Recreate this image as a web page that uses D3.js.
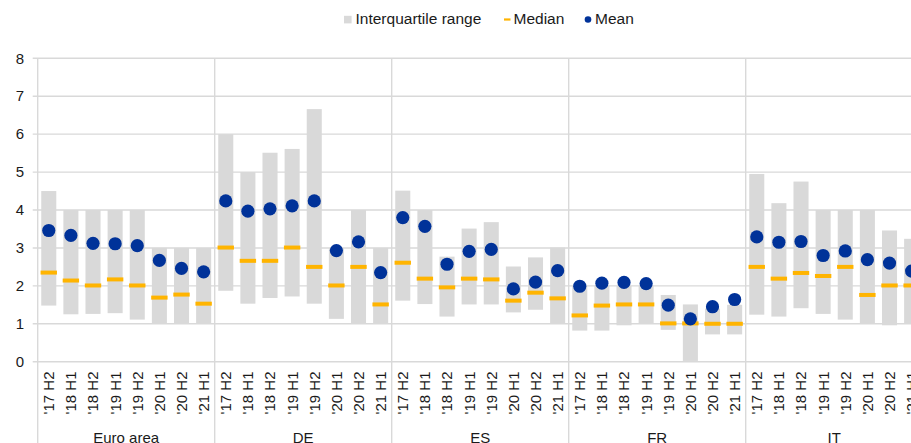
<!DOCTYPE html>
<html>
<head>
<meta charset="utf-8">
<script src="https://cdn.jsdelivr.net/npm/d3@7/dist/d3.min.js"></script>
<style>
html,body{margin:0;padding:0;background:#fff;overflow:hidden;}
text{font-family:"Liberation Sans",Arial,sans-serif;fill:#1a1a1a;}
</style>
</head>
<body>
<svg id="chart" width="911" height="443"></svg>
<script>
const groups = ["Euro area", "DE", "ES", "FR", "IT"];
const periods = ["'17 H2", "'18 H1", "'18 H2", "'19 H1", "'19 H2", "'20 H1", "'20 H2", "'21 H1"];
const yTicks = [0, 1, 2, 3, 4, 5, 6, 7, 8];

// per group, 8 periods each
const q1 = [
  [1.48, 1.25, 1.26, 1.28, 1.11, 1.0, 1.0, 1.0],
  [1.87, 1.53, 1.68, 1.72, 1.53, 1.13, 1.0, 1.0],
  [1.61, 1.52, 1.19, 1.51, 1.51, 1.30, 1.37, 1.02],
  [0.82, 0.82, 0.96, 1.02, 0.84, 0.02, 0.72, 0.72],
  [1.24, 1.19, 1.41, 1.26, 1.11, 1.02, 0.96, 1.02]
];
const q3 = [
  [4.5, 4.0, 4.0, 4.0, 4.0, 3.0, 3.0, 3.0],
  [6.0, 5.0, 5.51, 5.61, 6.66, 3.0, 4.0, 3.0],
  [4.51, 4.0, 2.77, 3.51, 3.68, 2.51, 2.75, 3.01],
  [2.0, 2.0, 2.0, 2.0, 1.76, 1.51, 1.4, 1.5],
  [4.95, 4.18, 4.75, 4.0, 4.0, 4.0, 3.46, 3.24]
];
const medians = [
  [2.35, 2.14, 2.01, 2.17, 2.01, 1.69, 1.77, 1.53],
  [3.01, 2.66, 2.66, 3.01, 2.5, 2.01, 2.5, 1.51],
  [2.61, 2.19, 1.96, 2.19, 2.17, 1.61, 1.82, 1.67],
  [1.22, 1.48, 1.51, 1.51, 1.01, 1.01, 1.0, 1.0],
  [2.5, 2.19, 2.34, 2.26, 2.5, 1.76, 2.01, 2.01]
];
const means = [
  [3.46, 3.33, 3.12, 3.11, 3.06, 2.67, 2.46, 2.37],
  [4.24, 3.97, 4.03, 4.11, 4.24, 2.93, 3.16, 2.35],
  [3.80, 3.57, 2.57, 2.91, 2.96, 1.92, 2.10, 2.40],
  [1.99, 2.07, 2.09, 2.06, 1.49, 1.13, 1.45, 1.64],
  [3.29, 3.15, 3.17, 2.80, 2.92, 2.69, 2.60, 2.39]
];

const data = [];
groups.forEach((g, gi) => periods.forEach((p, pi) => {
  data.push({key: g + "|" + p, group: g, period: p, gi, pi,
    q1: q1[gi][pi], q3: q3[gi][pi], median: medians[gi][pi], mean: means[gi][pi]});
}));

const svg = d3.select("#chart");
const plotLeft = 37.7, step = 22.125;
const plotTop = 58.3, plotBottom = 361.7;
const plotRight = plotLeft + step * data.length;

const x = d3.scaleBand().domain(data.map(d => d.key)).range([plotLeft, plotRight])
  .paddingInner(0.32).paddingOuter(0.16);
const y = d3.scaleLinear().domain([0, 8]).range([plotBottom, plotTop]);

const grid = "#d9d9d9";

// horizontal gridlines
svg.append("g").selectAll("line").data(yTicks).join("line")
  .attr("x1", plotLeft - 5).attr("x2", 911)
  .attr("y1", d => y(d)).attr("y2", d => y(d))
  .attr("stroke", grid).attr("stroke-width", 1.4);

// y tick labels
svg.append("g").selectAll("text").data(yTicks).join("text")
  .attr("x", 24).attr("y", d => y(d)).attr("dy", "0.35em")
  .attr("text-anchor", "end").style("font-size", "15px").text(d => d);

// vertical separators
const seps = d3.range(groups.length + 1).map(i => plotLeft + i * 8 * x.step());
svg.append("g").selectAll("line").data(seps).join("line")
  .attr("x1", d => d).attr("x2", d => d)
  .attr("y1", plotTop).attr("y2", 443)
  .attr("stroke", grid).attr("stroke-width", 1.4);

const cx = d => x(d.key) + x.bandwidth() / 2;

// IQR bars
svg.append("g").selectAll("rect").data(data).join("rect")
  .attr("x", d => x(d.key)).attr("width", x.bandwidth())
  .attr("y", d => y(d.q3)).attr("height", d => y(d.q1) - y(d.q3))
  .attr("fill", "#d9d9d9");

// medians
svg.append("g").selectAll("rect").data(data).join("rect")
  .attr("x", d => cx(d) - 8.2).attr("width", 16.4)
  .attr("y", d => y(d.median) - 2).attr("height", 4)
  .attr("fill", "#ffb400");

// means
svg.append("g").selectAll("circle").data(data).join("circle")
  .attr("cx", cx).attr("cy", d => y(d.mean)).attr("r", 6.6)
  .attr("fill", "#003299");

// category labels
svg.append("g").selectAll("text").data(data).join("text")
  .attr("transform", d => `translate(${cx(d)},371.5) rotate(-90)`)
  .attr("dy", "0.36em").attr("text-anchor", "end")
  .style("font-size", "15px").text(d => d.period);

// group labels
svg.append("g").selectAll("text").data(groups).join("text")
  .attr("x", (d, i) => plotLeft + (i + 0.5) * 8 * x.step()).attr("y", 442.5)
  .attr("text-anchor", "middle").style("font-size", "15px").text(d => d);

// legend
const lg = svg.append("g");
lg.append("rect").attr("x", 344).attr("y", 15.8).attr("width", 7.6).attr("height", 7.6).attr("fill", "#d9d9d9");
lg.append("text").attr("x", 355.5).attr("y", 24.2).style("font-size", "15.5px").text("Interquartile range");
lg.append("rect").attr("x", 504).attr("y", 18.4).attr("width", 6.5).attr("height", 2.2).attr("fill", "#ffb400");
lg.append("text").attr("x", 513.5).attr("y", 24.2).style("font-size", "15.5px").text("Median");
lg.append("circle").attr("cx", 588).attr("cy", 19.5).attr("r", 3.3).attr("fill", "#003299");
lg.append("text").attr("x", 595).attr("y", 24.2).style("font-size", "15.5px").text("Mean");
</script>
</body>
</html>
